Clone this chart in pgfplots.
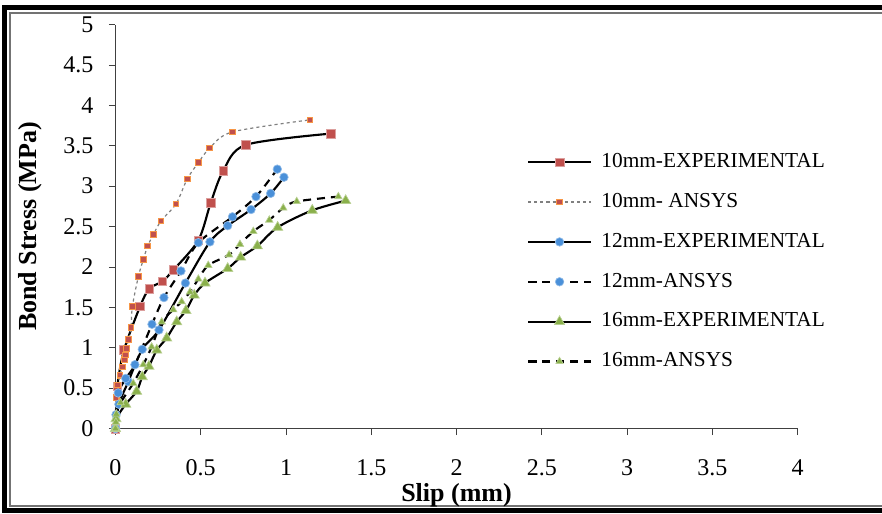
\documentclass[border=0pt]{standalone}
\usepackage{fontspec}
\setmainfont{Liberation Serif}
\usepackage{pgfplots}
\pgfplotsset{compat=1.18}
\definecolor{redsq}{HTML}{C0504D}
\definecolor{orsq}{HTML}{F79646}
\definecolor{bluec}{HTML}{4A90D9}
\definecolor{greent}{HTML}{8AB04B}
\begin{document}
\begin{tikzpicture}
\useasboundingbox (0,0) rectangle (661.5pt,-385.5pt);
\begin{scope}[x=0.75pt,y=-0.75pt]
\clip (0,0) rectangle (882,514);
\draw[line width=3.75pt] (900,7.5) -- (4.5,7.5) -- (4.5,510.5) -- (900,510.5);
\draw[black!55, line width=1.5pt] (900,13) -- (10,13) -- (10,506) -- (900,506);
\end{scope}
\begin{axis}[
  at={(86.625pt,-321.375pt)}, anchor=south west,
  scale only axis, width=511.5pt, height=303pt,
  xmin=0, xmax=4, ymin=0, ymax=5,
  axis lines=left,
  axis line style={-, black!75, line width=0.6pt},
  xtick={0,0.5,1,1.5,2,2.5,3,3.5,4},
  ytick={0,0.5,1,1.5,2,2.5,3,3.5,4,4.5,5},
  tick align=outside, major tick length=5pt,
  tick style={black!75, line width=0.6pt},
  /pgf/number format/assume math mode=true,
  ticklabel style={font=\fontsize{18}{18}\selectfont},
  xticklabel style={yshift=-15pt},
  yticklabel style={xshift=-8pt},
  xlabel={Slip (mm)},
  label style={font=\fontsize{19.5}{19.5}\selectfont\bfseries},
  xlabel style={at={(rel axis cs:0.5,0)}, anchor=center, yshift=-50pt},
  clip=false,
  legend style={draw=none, fill=none, at={(0.603,0.683)}, anchor=north west,
    font=\fontsize{16}{16}\selectfont, inner sep=0pt, row sep=15.9pt,
    nodes={inner sep=0pt, text height=11pt, text depth=3pt},
    /tikz/every odd column/.append style={column sep=7pt}},
  legend cell align=left,
  legend image code/.code={\draw[mark repeat=2,mark phase=2] plot coordinates {(0cm,0cm) (0.83cm,0cm) (1.66cm,0cm)};},
]
\addplot[black, line width=1.6pt, smooth, mark=square*, mark size=3.25pt,
  mark options={solid, fill=redsq, draw=redsq!55!white, line width=0.5pt}] coordinates {
(0,0) (0.011,0.52) (0.05,0.97) (0.144,1.51) (0.198,1.73) (0.274,1.82) (0.339,1.96) (0.486,2.33) (0.558,2.79) (0.632,3.19) (0.764,3.51) (1.264,3.65)};
\addlegendentry{10mm-EXPERIMENTAL}
\addplot[black!50, line width=0.9pt, dash pattern=on 2.3pt off 2.3pt, smooth, mark=square*, mark size=2.1pt,
  mark options={solid, fill=redsq, draw=orsq, line width=0.8pt}] coordinates {
(0,0) (0.004,0.38) (0.013,0.54) (0.026,0.66) (0.04,0.76) (0.052,0.85) (0.06,0.91) (0.066,0.99) (0.075,1.10) (0.091,1.25) (0.099,1.51) (0.134,1.88) (0.163,2.09) (0.189,2.26) (0.222,2.40) (0.267,2.57) (0.355,2.78) (0.421,3.09) (0.486,3.29) (0.552,3.47) (0.685,3.67) (1.141,3.82)};
\addlegendentry{10mm- ANSYS}
\addplot[black, line width=1.6pt, smooth, mark=*, mark size=3.2pt,
  mark options={solid, fill=bluec, draw=bluec!60!white, line width=0.5pt}] coordinates {
(0,0) (0.02,0.30) (0.075,0.58) (0.157,0.98) (0.255,1.22) (0.41,1.80) (0.554,2.31) (0.658,2.51) (0.795,2.71) (0.910,2.91) (0.988,3.11)};
\addlegendentry{12mm-EXPERIMENTAL}
\addplot[black, line width=1.6pt, dash pattern=on 6pt off 4.5pt, smooth, mark=*, mark size=3.2pt,
  mark options={solid, fill=bluec, draw=bluec!60!white, line width=0.5pt}] coordinates {
(0,0) (0.003,0.17) (0.016,0.44) (0.06,0.62) (0.114,0.79) (0.214,1.29) (0.284,1.62) (0.384,1.95) (0.486,2.30) (0.686,2.62) (0.824,2.87) (0.949,3.21)};
\addlegendentry{12mm-ANSYS}
\addplot[black, line width=1.6pt, smooth, mark=triangle*, mark size=4.4pt,
  mark options={solid, fill=greent, draw=greent!60!white, line width=0.5pt}] coordinates {
(0,0) (0.003,0.12) (0.06,0.30) (0.124,0.46) (0.157,0.64) (0.196,0.77) (0.242,0.97) (0.300,1.12) (0.359,1.32) (0.413,1.46) (0.462,1.65) (0.525,1.80) (0.658,1.98) (0.734,2.12) (0.832,2.26) (0.951,2.49) (1.154,2.70) (1.350,2.82)};
\addlegendentry{16mm-EXPERIMENTAL}
\addplot[black, line width=1.6pt, dash pattern=on 6pt off 4.5pt, smooth, mark=triangle*, mark size=3.2pt,
  mark options={solid, fill=greent, draw=greent!60!white, line width=0.5pt}] coordinates {
(0,0) (0.002,0.08) (0.005,0.18) (0.03,0.32) (0.104,0.56) (0.163,0.79) (0.212,1.01) (0.271,1.32) (0.339,1.47) (0.388,1.57) (0.437,1.69) (0.486,1.85) (0.544,2.02) (0.666,2.15) (0.730,2.28) (0.808,2.44) (0.902,2.58) (0.984,2.73) (1.063,2.81) (1.307,2.87)};
\addlegendentry{16mm-ANSYS}
\node[rotate=90, anchor=center, font=\fontsize{19.5}{19.5}\selectfont\bfseries] at (rel axis cs:-0.1251,0.5) {Bond Stress (MPa)};
\end{axis}
\end{tikzpicture}
\end{document}
